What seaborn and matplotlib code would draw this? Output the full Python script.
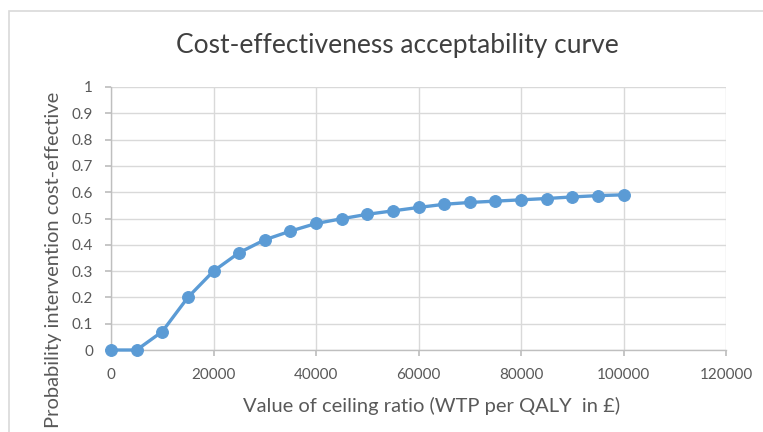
import matplotlib
matplotlib.use("Agg")
import matplotlib.pyplot as plt
import seaborn as sns
import pandas as pd
from matplotlib.patches import Rectangle

wtp = [0, 5000, 10000, 15000, 20000, 25000, 30000, 35000, 40000, 45000, 50000,
       55000, 60000, 65000, 70000, 75000, 80000, 85000, 90000, 95000, 100000]
prob = [0.0, 0.0, 0.07, 0.20, 0.30, 0.37, 0.419, 0.452, 0.481, 0.499, 0.516,
        0.529, 0.542, 0.554, 0.561, 0.566, 0.571, 0.576, 0.582, 0.587, 0.59]
xticks = [0, 20000, 40000, 60000, 80000, 100000, 120000]
yticks = [0, 0.1, 0.2, 0.3, 0.4, 0.5, 0.6, 0.7, 0.8, 0.9, 1.0]
ytick_labels = ["0", "0.1", "0.2", "0.3", "0.4", "0.5", "0.6", "0.7", "0.8", "0.9", "1"]

df = pd.DataFrame({"wtp": wtp, "prob": prob})

sns.set_theme(style="white")
plt.rcParams["font.family"] = ["Lato", "DejaVu Sans"]

W, H = 763, 432
fig = plt.figure(figsize=(W / 100, H / 100), dpi=100)
fig.patch.set_facecolor("white")
fig.patches.append(Rectangle((9 / W, -0.1), 1.2, (H - 11) / H + 0.1, transform=fig.transFigure,
                             fill=False, edgecolor="#d9d9d9", linewidth=1.2))

ax = fig.add_axes([111 / W, (H - 350) / H, 615 / W, 263 / H])
blue = "#5b9bd5"
sns.lineplot(data=df, x="wtp", y="prob", ax=ax, color=blue, linewidth=2.4,
             marker="o", markersize=8.5, markeredgecolor=blue, markerfacecolor=blue,
             clip_on=False, zorder=3)

ax.set_xlim(0, 120000)
ax.set_ylim(0, 1)
ax.set_xticks(xticks)
ax.set_xticklabels([str(v) for v in xticks])
ax.set_yticks(yticks)
ax.set_yticklabels(ytick_labels)
ax.grid(True, color="#d9d9d9", linewidth=1.0)
for s in ["top", "right"]:
    ax.spines[s].set_visible(False)
for s in ["bottom", "left"]:
    ax.spines[s].set_color("#bfbfbf")
    ax.spines[s].set_linewidth(1.0)
ax.tick_params(axis="x", bottom=True, length=4, color="#bfbfbf",
               labelsize=11, labelcolor="#595959", pad=9)
ax.tick_params(axis="y", left=True, length=4, color="#bfbfbf",
               labelsize=11, labelcolor="#595959", pad=9)

ax.set_xlabel("")
ax.set_ylabel("")
fig.text(432 / W, 1 - 406 / H, "Value of ceiling ratio (WTP per QALY  in £)", ha="center", va="center",
         fontsize=14.5, color="#595959")
fig.text(54 / W, 1 - 260 / H, "Probability intervention cost-effective", ha="center", va="center",
         rotation=90, fontsize=14.5, color="#595959")
fig.text(397 / W, 1 - 45 / H, "Cost-effectiveness acceptability curve", ha="center", va="center",
         fontsize=19, color="#404040")

fig.savefig("out.png", dpi=100)
